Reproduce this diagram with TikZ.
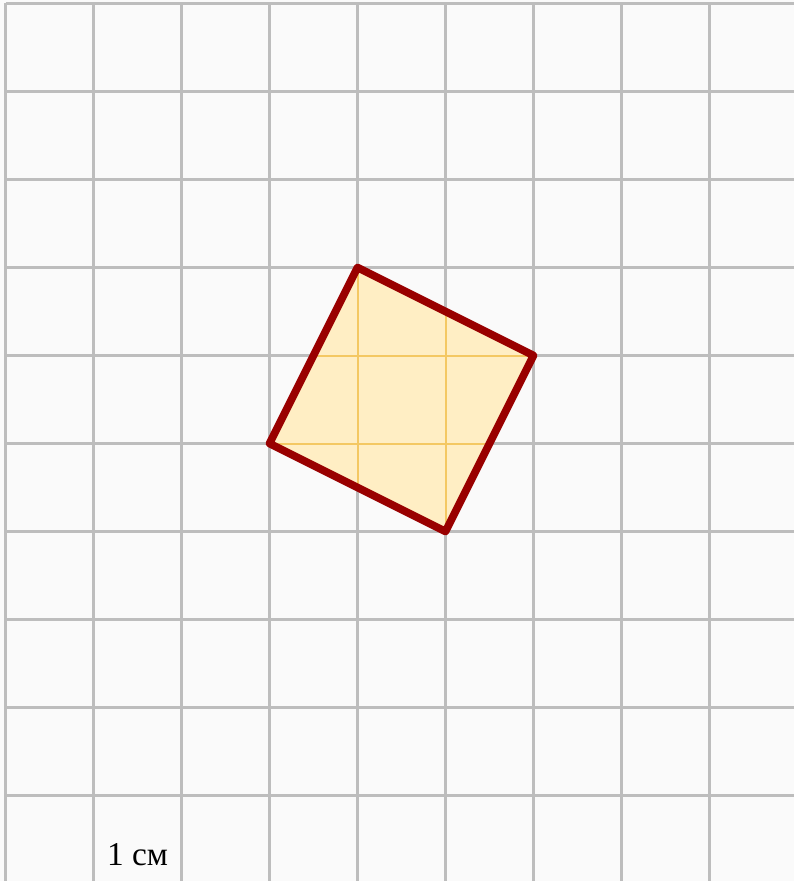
\documentclass[tikz,border=0pt]{standalone}
\usepackage{fontspec}
\setmainfont{Liberation Serif}
\definecolor{gridgray}{HTML}{BDBDBD}
\definecolor{sqfill}{HTML}{FFEEC4}
\definecolor{sqline}{HTML}{F4C863}
\definecolor{sqedge}{HTML}{990000}
\begin{document}
\begin{tikzpicture}[x=0.75pt,y=-0.75pt,
  gridline/.style={draw=gridgray,line width=1.9pt},
  innerline/.style={draw=sqline,line width=1.5pt},
  edge/.style={draw=sqedge,line width=5.8pt,line join=round}]
\useasboundingbox (0,0) rectangle (794,881);
\fill[white!98!black] (0,0) rectangle (794,881);
\foreach \k in {0,...,9} {
  \draw[gridline] ({5.5+88*\k},3.5) -- ({5.5+88*\k},881);
  \draw[gridline] (5.5,{3.5+88*\k}) -- (794,{3.5+88*\k});
}
\coordinate (A) at (357.5,267.5);
\coordinate (B) at (533.5,355.5);
\coordinate (C) at (445.5,531.5);
\coordinate (D) at (269.5,443.5);
\fill[sqfill] (A) -- (B) -- (C) -- (D) -- cycle;
\begin{scope}
  \clip (A) -- (B) -- (C) -- (D) -- cycle;
  \draw[innerline] (357.5,200) -- (357.5,600);
  \draw[innerline] (445.5,200) -- (445.5,600);
  \draw[innerline] (200,355.5) -- (600,355.5);
  \draw[innerline] (200,443.5) -- (600,443.5);
\end{scope}
\draw[edge] (A) -- (B) -- (C) -- (D) -- cycle;
\node[anchor=base,font=\fontsize{25}{28}\selectfont,inner sep=0pt] (lbl) at (137.5,865) {1 см};
\end{tikzpicture}
\end{document}
